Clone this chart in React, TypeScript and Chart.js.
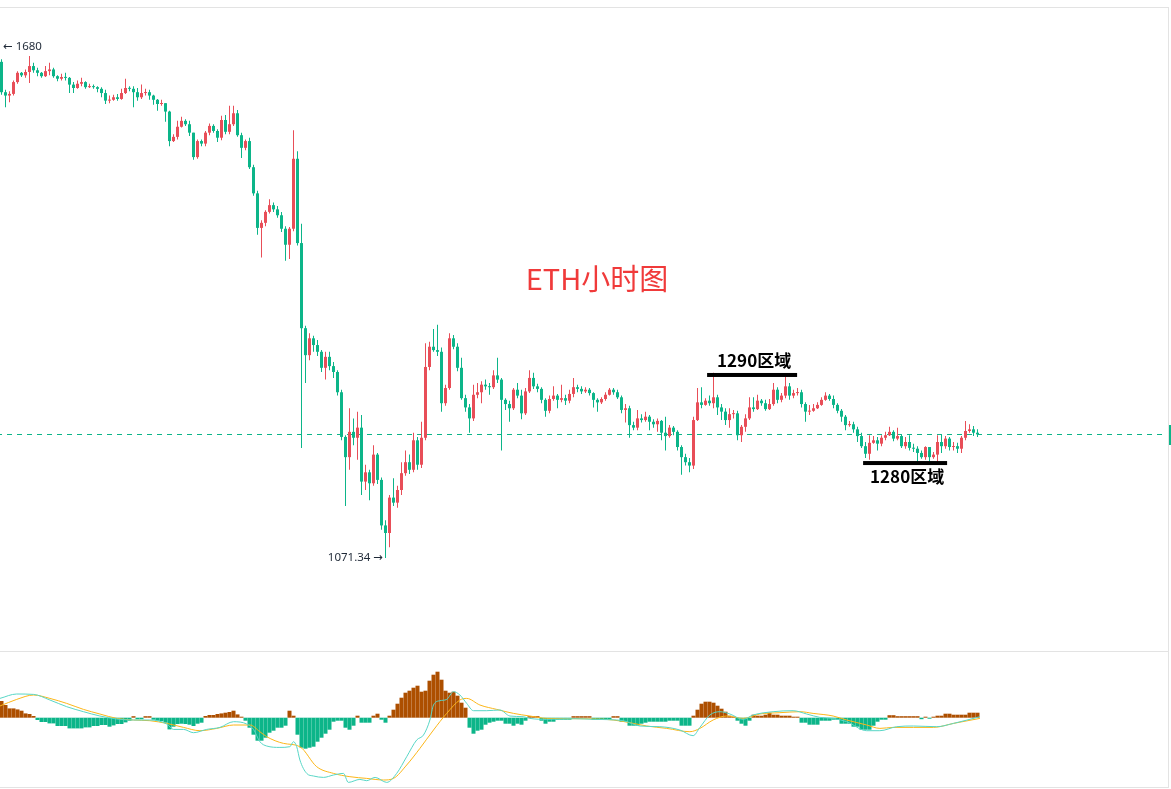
import React, { useEffect, useRef } from 'react';
import { Chart, registerables } from 'chart.js';

Chart.register(...registerables);

// ---------- data (ETH 1h candles) ----------
const FIRST_OPEN = 1660;

const closes = [
  1624, 1620, 1622, 1636, 1647, 1644, 1648, 1655, 1650, 1647,
  1643, 1649, 1651, 1643, 1640, 1642, 1641, 1633, 1629, 1634,
  1636, 1630, 1631, 1630, 1628, 1623, 1614, 1615, 1618, 1616,
  1623, 1629, 1628, 1624, 1618, 1623, 1624, 1620, 1615, 1610,
  1611, 1601, 1566, 1571, 1583, 1590, 1586, 1576, 1547, 1566,
  1563, 1576, 1584, 1578, 1570, 1591, 1577, 1586, 1599, 1573,
  1558, 1566, 1535, 1504, 1463, 1469, 1482, 1490, 1485, 1478,
  1462, 1443, 1462, 1545, 1445, 1344, 1312, 1332, 1324, 1316,
  1297, 1310, 1299, 1292, 1268, 1215, 1191, 1221, 1214, 1226,
  1162, 1173, 1160, 1194, 1164, 1110, 1101, 1143, 1137, 1152,
  1172, 1185, 1176, 1211, 1182, 1214, 1298, 1322, 1318, 1316,
  1255, 1273, 1332, 1322, 1297, 1261, 1250, 1237, 1265, 1268,
  1277, 1275, 1274, 1288, 1283, 1259, 1254, 1249, 1271, 1264,
  1243, 1269, 1285, 1275, 1272, 1259, 1246, 1260, 1264, 1259,
  1261, 1258, 1266, 1274, 1272, 1269, 1271, 1267, 1259, 1256,
  1260, 1265, 1271, 1268, 1262, 1247, 1249, 1229, 1226, 1237,
  1235, 1239, 1233, 1230, 1234, 1220, 1216, 1226, 1221, 1203,
  1191, 1185, 1181, 1235, 1256, 1253, 1258, 1255, 1262, 1250,
  1245, 1235, 1242, 1243, 1217, 1227, 1237, 1250, 1248, 1258,
  1255, 1248, 1254, 1271, 1259, 1264, 1275, 1264, 1267, 1268,
  1254, 1245, 1246, 1249, 1253, 1259, 1264, 1260, 1253, 1246,
  1239, 1229, 1230, 1224, 1216, 1204, 1195, 1208, 1211, 1207,
  1214, 1217, 1221, 1213, 1216, 1204, 1209, 1202, 1201, 1196,
  1191, 1203, 1191, 1194, 1209, 1204, 1213, 1203, 1204, 1201,
  1214, 1222, 1224, 1220, 1218,
];

const highs = [
  1663, 1627, 1625, 1638, 1649, 1648, 1651, 1667, 1659, 1653,
  1648, 1655, 1659, 1653, 1644, 1646, 1647, 1642, 1636, 1638,
  1641, 1637, 1634, 1633, 1631, 1630, 1627, 1620, 1621, 1622,
  1628, 1640, 1631, 1631, 1629, 1633, 1628, 1627, 1621, 1616,
  1615, 1611, 1602, 1574, 1590, 1595, 1592, 1590, 1576, 1568,
  1568, 1578, 1587, 1586, 1580, 1596, 1597, 1608, 1608, 1603,
  1576, 1568, 1570, 1538, 1507, 1472, 1484, 1497, 1493, 1489,
  1482, 1465, 1464, 1579, 1554, 1468, 1347, 1338, 1335, 1330,
  1318, 1316, 1316, 1304, 1294, 1271, 1217, 1249, 1237, 1245,
  1241, 1182, 1176, 1205, 1196, 1167, 1116, 1146, 1166, 1157,
  1185, 1199, 1194, 1220, 1215, 1233, 1326, 1328, 1343, 1348,
  1321, 1277, 1338, 1336, 1326, 1309, 1265, 1254, 1277, 1279,
  1281, 1283, 1279, 1294, 1309, 1285, 1261, 1258, 1273, 1279,
  1271, 1273, 1294, 1291, 1278, 1274, 1261, 1264, 1275, 1266,
  1277, 1265, 1271, 1285, 1277, 1275, 1274, 1273, 1268, 1261,
  1262, 1268, 1273, 1273, 1271, 1264, 1254, 1252, 1233, 1247,
  1242, 1245, 1241, 1236, 1237, 1235, 1239, 1229, 1228, 1223,
  1205, 1195, 1190, 1239, 1273, 1274, 1261, 1264, 1291, 1265,
  1254, 1249, 1249, 1247, 1246, 1229, 1242, 1262, 1262, 1265,
  1260, 1259, 1260, 1279, 1274, 1267, 1286, 1279, 1271, 1273,
  1271, 1256, 1253, 1254, 1256, 1262, 1268, 1266, 1264, 1255,
  1248, 1241, 1234, 1233, 1227, 1220, 1209, 1217, 1216, 1215,
  1217, 1221, 1227, 1223, 1226, 1218, 1215, 1217, 1207, 1204,
  1199, 1204, 1203, 1197, 1217, 1218, 1216, 1215, 1209, 1208,
  1216, 1234, 1230, 1228, 1224,
];

const lows = [
  1621, 1606, 1612, 1620, 1634, 1642, 1641, 1635, 1647, 1643,
  1641, 1642, 1644, 1641, 1637, 1638, 1638, 1623, 1623, 1628,
  1631, 1628, 1629, 1628, 1624, 1618, 1610, 1611, 1614, 1614,
  1615, 1622, 1625, 1606, 1614, 1616, 1620, 1615, 1609, 1602,
  1608, 1589, 1560, 1565, 1568, 1582, 1584, 1572, 1544, 1545,
  1560, 1560, 1573, 1576, 1565, 1567, 1574, 1574, 1584, 1571,
  1546, 1555, 1533, 1501, 1455, 1428, 1465, 1480, 1482, 1475,
  1458, 1424, 1426, 1459, 1442, 1202, 1279, 1306, 1316, 1311,
  1292, 1283, 1294, 1285, 1264, 1211, 1133, 1176, 1205, 1188,
  1146, 1152, 1140, 1157, 1159, 1105, 1071.34, 1084, 1133, 1131,
  1146, 1169, 1171, 1173, 1176, 1178, 1211, 1294, 1316, 1311,
  1245, 1252, 1271, 1319, 1293, 1259, 1245, 1220, 1234, 1261,
  1255, 1271, 1265, 1272, 1279, 1199, 1247, 1233, 1247, 1261,
  1236, 1241, 1267, 1272, 1268, 1255, 1239, 1243, 1258, 1249,
  1256, 1253, 1255, 1262, 1268, 1266, 1267, 1264, 1250, 1245,
  1254, 1258, 1264, 1265, 1260, 1243, 1232, 1214, 1223, 1223,
  1232, 1233, 1223, 1226, 1221, 1211, 1199, 1214, 1217, 1199,
  1170, 1181, 1173, 1177, 1234, 1249, 1252, 1252, 1249, 1241,
  1235, 1229, 1226, 1237, 1211, 1209, 1221, 1235, 1245, 1247,
  1252, 1246, 1247, 1252, 1255, 1256, 1261, 1259, 1261, 1264,
  1250, 1233, 1241, 1245, 1248, 1252, 1258, 1258, 1249, 1243,
  1233, 1223, 1227, 1220, 1209, 1202, 1190, 1188, 1207, 1199,
  1204, 1211, 1216, 1210, 1211, 1202, 1201, 1199, 1197, 1185,
  1189, 1188, 1186, 1189, 1185, 1196, 1201, 1199, 1199, 1196,
  1196, 1211, 1220, 1216, 1215,
];

// MACD histogram, one bar per candle
const macdHist = [
  16.7, 12.7, 9.3, 9.3, 8.3, 7, 4.3, 3.7, 1.7, -2.3,
  -4.3, -4.3, -5.7, -5.7, -8.3, -8.3, -8.3, -10.7, -10.7, -10.7,
  -10.7, -9.7, -9.7, -8.3, -8.3, -7.3, -7.3, -9, -7.7, -6.3,
  -6.3, -4.7, -3, 1.5, -1.5, -1.5, 1.5, 1.5, -2, -3,
  -3.5, -5, -11.7, -9, -6.3, -6, -6.3, -7, -8.3, -6,
  -5, 1.7, 2.7, 2.7, 3.7, 4.3, 5, 5.7, 7, 3.3,
  1, -3, -10, -17, -23, -23, -20, -15, -13, -10,
  -10, -8, 7, 2, -17, -30, -31, -30, -29, -24,
  -20, -16, -12, -4, -3, -3, -10, -12, -8, 2,
  -5, -5, -5, 2, 4, -2, -5, 2, 8, 14,
  20, 25, 27, 30, 32, 26, 27, 37, 43, 46,
  38, 27, 25, 26, 22, 15, 10, -10, -16, -13,
  -12, -7, -5, -4, -3, -3, -6, -6, -8, -6,
  -7, -3, 1.5, 1.5, 1.5, -3, -6, -4, -4, -2,
  -2, -2, -2, 1.5, 1.5, 1.5, 1.5, 1.5, -2, -2,
  -2, -2, -2, 1.5, 1.5, -4, -4, -8, -8, -8,
  -6, -5, -4, -4, -4, -4, -4, -3, -3, -3,
  -8, -8, -8, 2, 8, 14, 16, 16, 15, 12,
  9, 6, 2, 1, -3, -6, -8, -3, 3, 2,
  2, 3, 5, 3, 3, 2, 2, 2, 1, 1,
  -5, -5, -7, -7, -7, -3, -3, -3, -2, -2,
  -6, -6, -6, -9, -9, -12, -12, -12, -8, -4,
  -2, -2, 2.5, 2.5, 1.5, 1.5, 1.5, 1.5, 1.5, 1.5,
  -1.5, 1, -1, 1, 2, 2, 4, 4, 3, 3,
  3, 3, 5, 5, 5,
];

// DIF line, read at candle positions
const difIdx = [
  -0.4, 3.8, 8, 12.1, 16.3, 20.5, 24.6, 28.8, 33, 37.1,
  41.3, 43, 45.5, 48, 51.3, 54.6, 58, 61.3, 63, 64.6,
  66.3, 69.6, 72.1, 73, 73.8, 74.6, 76.3, 78, 80.5, 83,
  85.5, 86.7, 89.6, 91.3, 93.4, 96.3, 98.8, 101.3, 103.8, 105.5,
  107.1, 108, 109.6, 111.3, 113, 114.6, 116.3, 118, 121.3, 124.6,
  127.1, 130.4, 132.1, 136.3, 142.9, 148.8, 155.4, 159.6, 164.6, 169.6,
  172.9, 174.6, 177.1, 179.6, 182.1, 185.4, 187.9, 192.9, 197.9, 201.3,
  204.6, 207.9, 211.3, 216.3, 219.6, 223.8, 228, 233.8, 238, 244.6,
];
const difVal = [
  19.3, 23.7, 23.3, 17.7, 11, 6, 1.7, -1.3, -2.3, -2.3,
  -6.3, -11.7, -11.7, -15, -11.7, -9.7, -4, -6.3, -11.7, -24,
  -28.3, -29.7, -29, -24, -29, -42.3, -55.7, -58.3, -59.7, -57.3,
  -55.7, -64.7, -61.7, -63, -59.7, -64.7, -55.7, -39, -22.3, -17.3,
  -2.3, 12.7, 17, 18.3, 26, 22.7, 14.3, 7, 7, 7.7,
  1.7, 1, -0.7, -1.7, -1, -1.7, -3, -8.3, -9, -12.3,
  -18, -9.7, 2.7, 6, 3.7, -1.7, 2.7, 6, 7, 3.7,
  0.3, -0.7, -4, -13, -13, -9, -8.3, -9, -5.7, 1,
];

// DEA line, read at candle positions
const deaIdx = [
  -0.4, 3.8, 8, 12.1, 16.3, 20.5, 24.6, 28.8, 33, 37.1,
  41.3, 45.5, 49.6, 53.8, 58, 62.1, 64.6, 66.3, 70.5, 74.6,
  78.8, 83, 87.1, 91.3, 95.5, 98, 101.3, 104.6, 108, 111.3,
  114.6, 116.3, 119.6, 123.8, 128, 132.1, 136.3, 144.6, 152.9, 157.1,
  161.3, 166.3, 172.1, 174.6, 177.9, 181.3, 185.4, 189.6, 194.6, 199.6,
  202.9, 207.9, 211.3, 216.3, 219.6, 222.9, 228, 233, 238, 244.6,
];
const deaVal = [
  11.7, 18.3, 22.7, 19.3, 14.3, 8.3, 3.7, -0.7, -2.3, -3,
  -5.7, -9.7, -13, -10.7, -7.3, -7.3, -14, -19, -25.7, -29,
  -49, -55.7, -59, -60.7, -62.3, -60.7, -47.3, -30.7, -12.3, 4.3,
  17.7, 19.3, 12.7, 8.3, 4.3, 1.7, -0.7, -1, -2.3, -5,
  -8.3, -10.7, -14, -10.7, -2.3, 1.7, -0.7, 3.7, 5, 6,
  4.3, 1.7, -2.3, -7.3, -10.7, -9.7, -9.7, -9.7, -5.7, -0.7,
];

// annotations
const HIGH_MARK = 1680;
const LOW_MARK = 1071.34;
const LOW_MARK_INDEX = 96;
const zoneLevels = [1288.5, 1184];
const zoneFrom = [176.4, 215.4];
const zoneTo = [198.9, 236.4];
const zoneTexts = ['1290区域', '1280区域'];
const zoneTextAbove = [true, false];
const TITLE = 'ETH小时图';

// ---------- styles ----------
const UP = '#e84e58';
const DOWN = '#0cb589';
const HIST_UP = '#ad4f00';
const HIST_DOWN = '#0cb589';
const DIF_COLOR = '#58d6c6';
const DEA_COLOR = '#fcb619';
const BORDER = '#e3e3e3';

const W = 1171;
const MAIN_TOP = 8;
const MAIN_H = 643;
const MACD_TOP = 652;
const MACD_H = 135;
const X_MIN = -0.375;
const X_MAX = X_MIN + W / 4;
const MAIN_Y_MAX = 1723.9;
const MAIN_Y_MIN = 961.0;
const MACD_Y_MAX = 65.7;
const MACD_Y_MIN = -69.3;

const LABEL_FONT = '11.5px "Noto Sans", "DejaVu Sans", sans-serif';

const mainOverlay = {
  id: 'mainOverlay',
  beforeDatasetsDraw(chart: any) {
    const { ctx, chartArea, scales } = chart;
    const yy = Math.round(scales.y.getPixelForValue(closes[closes.length - 1])) + 0.5;
    ctx.save();
    ctx.strokeStyle = DOWN;
    ctx.lineWidth = 1;
    ctx.setLineDash([5, 5]);
    ctx.lineDashOffset = 3;
    ctx.beginPath();
    ctx.moveTo(chartArea.left, yy);
    ctx.lineTo(chartArea.right - 5, yy);
    ctx.stroke();
    ctx.restore();
  },
  afterDatasetsDraw(chart: any) {
    const { ctx, chartArea, scales } = chart;
    const x = scales.x;
    const y = scales.y;
    ctx.save();
    // last price tag stub at the right edge
    const yy = Math.round(y.getPixelForValue(closes[closes.length - 1]));
    ctx.fillStyle = DOWN;
    ctx.fillRect(chartArea.right - 2, yy - 9, 2, 20);

    // zone marks
    zoneLevels.forEach((lvl, k) => {
      const x0 = x.getPixelForValue(zoneFrom[k]);
      const x1 = x.getPixelForValue(zoneTo[k]);
      const py = y.getPixelForValue(lvl);
      ctx.fillStyle = '#000';
      ctx.fillRect(x0, py - 2, x1 - x0, 4);
      ctx.font = 'bold 17px "Noto Sans CJK SC", sans-serif';
      ctx.textAlign = 'center';
      ctx.textBaseline = 'alphabetic';
      ctx.fillText(zoneTexts[k], (x0 + x1) / 2 + 2, zoneTextAbove[k] ? py - 8 : py + 20);
    });

    // high / low marks
    ctx.fillStyle = '#1f2937';
    ctx.font = LABEL_FONT;
    ctx.textBaseline = 'alphabetic';
    ctx.textAlign = 'left';
    ctx.fillText('\u2190 ' + HIGH_MARK, 3, y.getPixelForValue(HIGH_MARK) + 4.5);
    ctx.textAlign = 'right';
    ctx.fillText(LOW_MARK.toFixed(2) + ' \u2192', x.getPixelForValue(LOW_MARK_INDEX) - 2.5, y.getPixelForValue(LOW_MARK) + 3);

    // title
    ctx.fillStyle = '#f03a3a';
    ctx.font = '29px "Noto Sans CJK SC", sans-serif';
    ctx.textAlign = 'center';
    ctx.fillText(TITLE, 597, 281.5);
    ctx.restore();
  },
};

export default function App() {
  const mainRef = useRef<HTMLCanvasElement>(null);
  const macdRef = useRef<HTMLCanvasElement>(null);

  useEffect(() => {
    const idx = closes.map((_, i) => i);
    const opens = closes.map((_, i) => (i === 0 ? FIRST_OPEN : closes[i - 1]));
    const candleColors = idx.map((i) => (closes[i] >= opens[i] ? UP : DOWN));

    const main = new Chart(mainRef.current as HTMLCanvasElement, {
      type: 'bar',
      data: {
        datasets: [
          {
            label: 'wick',
            data: idx.map((i) => ({ x: i, y: [lows[i], highs[i]] })) as any,
            backgroundColor: candleColors,
            barPercentage: 1,
            categoryPercentage: 1,
            maxBarThickness: 1,
            grouped: false,
            inflateAmount: 0,
            order: 2,
          } as any,
          {
            label: 'body',
            data: idx.map((i) => ({ x: i, y: [opens[i], closes[i]] })) as any,
            backgroundColor: candleColors,
            barPercentage: 1,
            categoryPercentage: 1,
            maxBarThickness: 3,
            grouped: false,
            inflateAmount: 0,
            minBarLength: 1,
            order: 1,
          } as any,
        ],
      },
      options: {
        animation: false,
        responsive: false,
        maintainAspectRatio: false,
        events: [],
        layout: { padding: 0 },
        plugins: { legend: { display: false }, tooltip: { enabled: false } },
        scales: {
          x: { type: 'linear', min: X_MIN, max: X_MAX, display: false, offset: false },
          y: { type: 'linear', min: MAIN_Y_MIN, max: MAIN_Y_MAX, display: false },
        },
      } as any,
      plugins: [mainOverlay],
    });

    const macd = new Chart(macdRef.current as HTMLCanvasElement, {
      type: 'bar',
      data: {
        datasets: [
          {
            type: 'line',
            label: 'DIF',
            data: difIdx.map((xv, k) => ({ x: xv, y: difVal[k] })),
            borderColor: DIF_COLOR,
            borderWidth: 1,
            pointRadius: 0,
            cubicInterpolationMode: 'monotone',
            fill: false,
            order: 0,
          } as any,
          {
            type: 'line',
            label: 'DEA',
            data: deaIdx.map((xv, k) => ({ x: xv, y: deaVal[k] })),
            borderColor: DEA_COLOR,
            borderWidth: 1,
            pointRadius: 0,
            cubicInterpolationMode: 'monotone',
            fill: false,
            order: 1,
          } as any,
          {
            type: 'bar',
            label: 'MACD',
            data: macdHist.map((v, i) => ({ x: i, y: v })),
            backgroundColor: macdHist.map((v) => (v >= 0 ? HIST_UP : HIST_DOWN)),
            barPercentage: 1,
            categoryPercentage: 1,
            maxBarThickness: 4,
            grouped: false,
            inflateAmount: 0,
            order: 2,
          } as any,
        ],
      },
      options: {
        animation: false,
        responsive: false,
        maintainAspectRatio: false,
        events: [],
        layout: { padding: 0 },
        plugins: { legend: { display: false }, tooltip: { enabled: false } },
        scales: {
          x: { type: 'linear', min: X_MIN, max: X_MAX, display: false, offset: false },
          y: { type: 'linear', min: MACD_Y_MIN, max: MACD_Y_MAX, display: false },
        },
      } as any,
    });

    return () => {
      main.destroy();
      macd.destroy();
    };
  }, []);

  const line = (style: React.CSSProperties) => (
    <div style={{ position: 'absolute', background: BORDER, ...style }} />
  );

  return (
    <div style={{ position: 'absolute', left: 0, top: 0, width: W, height: 789, background: '#fff', overflow: 'hidden' }}>
      <canvas ref={mainRef} width={W} height={MAIN_H} style={{ position: 'absolute', left: 0, top: MAIN_TOP, width: W, height: MAIN_H }} />
      <canvas ref={macdRef} width={W} height={MACD_H} style={{ position: 'absolute', left: 0, top: MACD_TOP, width: W, height: MACD_H }} />
      {line({ left: 0, top: 7, width: 1169, height: 1 })}
      {line({ left: 0, top: 651, width: 1169, height: 1 })}
      {line({ left: 0, top: 787, width: 1169, height: 1 })}
      {line({ left: 1168, top: 7, width: 1, height: 781 })}
    </div>
  );
}
